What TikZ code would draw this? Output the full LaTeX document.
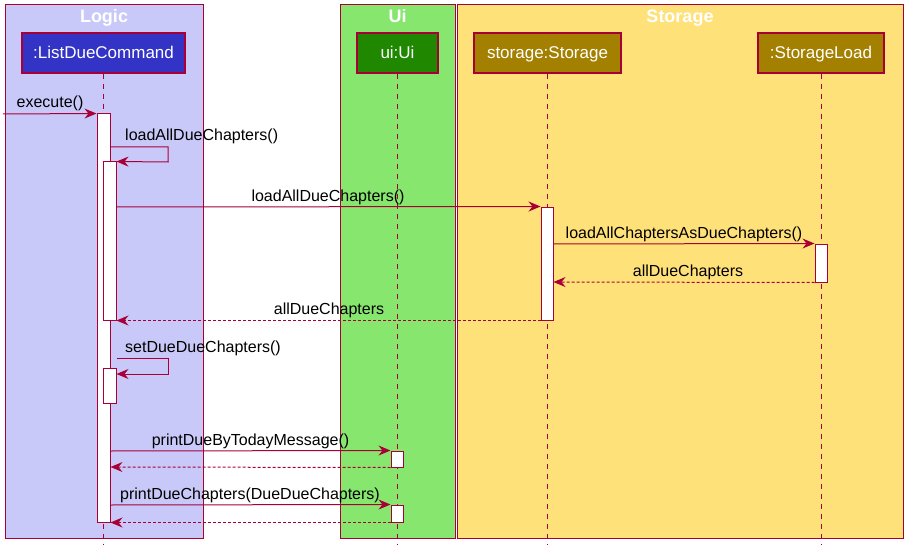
\documentclass[tikz,border=0pt]{standalone}
\usepackage{fontspec}
\setmainfont{Liberation Sans}
\usetikzlibrary{arrows.meta}
\definecolor{bordercol}{HTML}{A80036}
\definecolor{logicbg}{HTML}{C9C9F9}
\definecolor{uibg}{HTML}{86E66E}
\definecolor{storagebg}{HTML}{FFE17A}
\definecolor{logicpart}{HTML}{3333C6}
\definecolor{uipart}{HTML}{1F8800}
\definecolor{storagepart}{HTML}{A38000}
\begin{document}
\begin{tikzpicture}[x=1pt,y=-1pt,
  groupbox/.style={draw=bordercol, line width=1pt},
  grouptitle/.style={text=white, font=\fontsize{18}{20}\selectfont\bfseries, anchor=base, inner sep=0pt},
  participant/.style={draw=bordercol, line width=1.5pt, text=white, font=\fontsize{17}{20}\selectfont, minimum height=40pt, inner sep=0pt, text height=12pt, text depth=0pt},
  lifeline/.style={draw=bordercol, dash pattern=on 5pt off 5pt, line width=1pt},
  act/.style={draw=bordercol, fill=white, line width=1pt, inner sep=0pt, minimum width=12pt},
  msg/.style={draw=bordercol, line width=1pt, -{Stealth[length=12pt,width=10pt,inset=4pt]}},
  ret/.style={msg, dash pattern=on 3pt off 2pt},
  lbl/.style={font=\fontsize{16}{19}\selectfont, text=black, inner sep=0pt, anchor=base},
  lblw/.style={lbl, anchor=base west}
]
\useasboundingbox (0,0) rectangle (913,559);
\fill[white] (0,0) rectangle (913,559);

% group boxes
\filldraw[groupbox, fill=logicbg] (5,5) rectangle (203,538);
\filldraw[groupbox, fill=uibg] (340,5) rectangle (455,538);
\filldraw[groupbox, fill=storagebg] (457,5) rectangle (903,538);
\node[grouptitle] (tLogic) at (104,23) {Logic};
\node[grouptitle] (tUi) at (397.5,23) {Ui};
\node[grouptitle] (tStorage) at (680,23) {Storage};

% participants
\node[participant, fill=logicpart, minimum width=163pt] (ldc) at (103.5,53) {:ListDueCommand};
\node[participant, fill=uipart, minimum width=81pt] (ui) at (397.5,53) {ui:Ui};
\node[participant, fill=storagepart, minimum width=147pt] (st) at (547.5,53) {storage:Storage};
\node[participant, fill=storagepart, minimum width=126pt] (sl) at (821,53) {:StorageLoad};

% lifeline ends
\coordinate (ldcEnd) at (103.5,545);
\coordinate (uiEnd) at (397.5,545);
\coordinate (stEnd) at (547.5,545);
\coordinate (slEnd) at (821,545);
\draw[lifeline] (ldc.south) -- (ldcEnd);
\draw[lifeline] (ui.south) -- (uiEnd);
\draw[lifeline] (st.south) -- (stEnd);
\draw[lifeline] (sl.south) -- (slEnd);

% activations
\node[act, minimum width=13pt, minimum height=408pt] (a1) at (103.5,318) {};
\node[act, minimum width=13pt, minimum height=158pt] (a2) at (109.5,241) {};
\node[act, minimum height=113pt] (s1) at (547,263.5) {};
\node[act, minimum height=38pt] (l1) at (821,263) {};
\node[act, minimum width=13pt, minimum height=35pt] (a3) at (109.5,385.5) {};
\node[act, minimum height=16pt] (u1) at (397,459) {};
\node[act, minimum height=17pt] (u2) at (397,513.5) {};

% free ends / corners
\coordinate (start) at (3,114);
\coordinate (c1) at (168,147);
\coordinate (c2) at (168,162);
\coordinate (c3) at (168,358);
\coordinate (c4) at (168,374);

% messages
\draw[msg] (start) -- (a1.north west);
\node[lbl] at (50,108) {execute()};

\draw[msg] (a1.east |- c1) -- (c1) -- (c2) -- (a2.north east);
\node[lblw] at (125,141) {loadAllDueChapters()};

\draw[msg] (a2.east |- 0,207) -- (s1.north west);
\node[lbl] at (328,201) {loadAllDueChapters()};

\draw[msg] (s1.east |- 0,244) -- (l1.north west);
\node[lbl] at (684,238) {loadAllChaptersAsDueChapters()};

\draw[ret] (l1.south west) -- (s1.east |- 0,282);
\node[lbl] at (688,276) {allDueChapters};

\draw[ret] (s1.south west) -- (a2.south east);
\node[lbl] at (329,314) {allDueChapters};

\draw[msg] (a2.east |- c3) -- (c3) -- (c4) -- (a3.east |- c4);
\node[lblw] at (125,352) {setDueDueChapters()};

\draw[msg] (a1.east |- 0,451) -- (u1.north west);
\node[lbl] at (250.5,445) {printDueByTodayMessage()};

\draw[ret] (u1.south west) -- (a1.east |- 0,467);

\draw[msg] (a1.east |- 0,505) -- (u2.north west);
\node[lbl] at (250,499) {printDueChapters(DueDueChapters)};

\draw[ret] (u2.south west) -- (a1.south east);
\end{tikzpicture}
\end{document}
